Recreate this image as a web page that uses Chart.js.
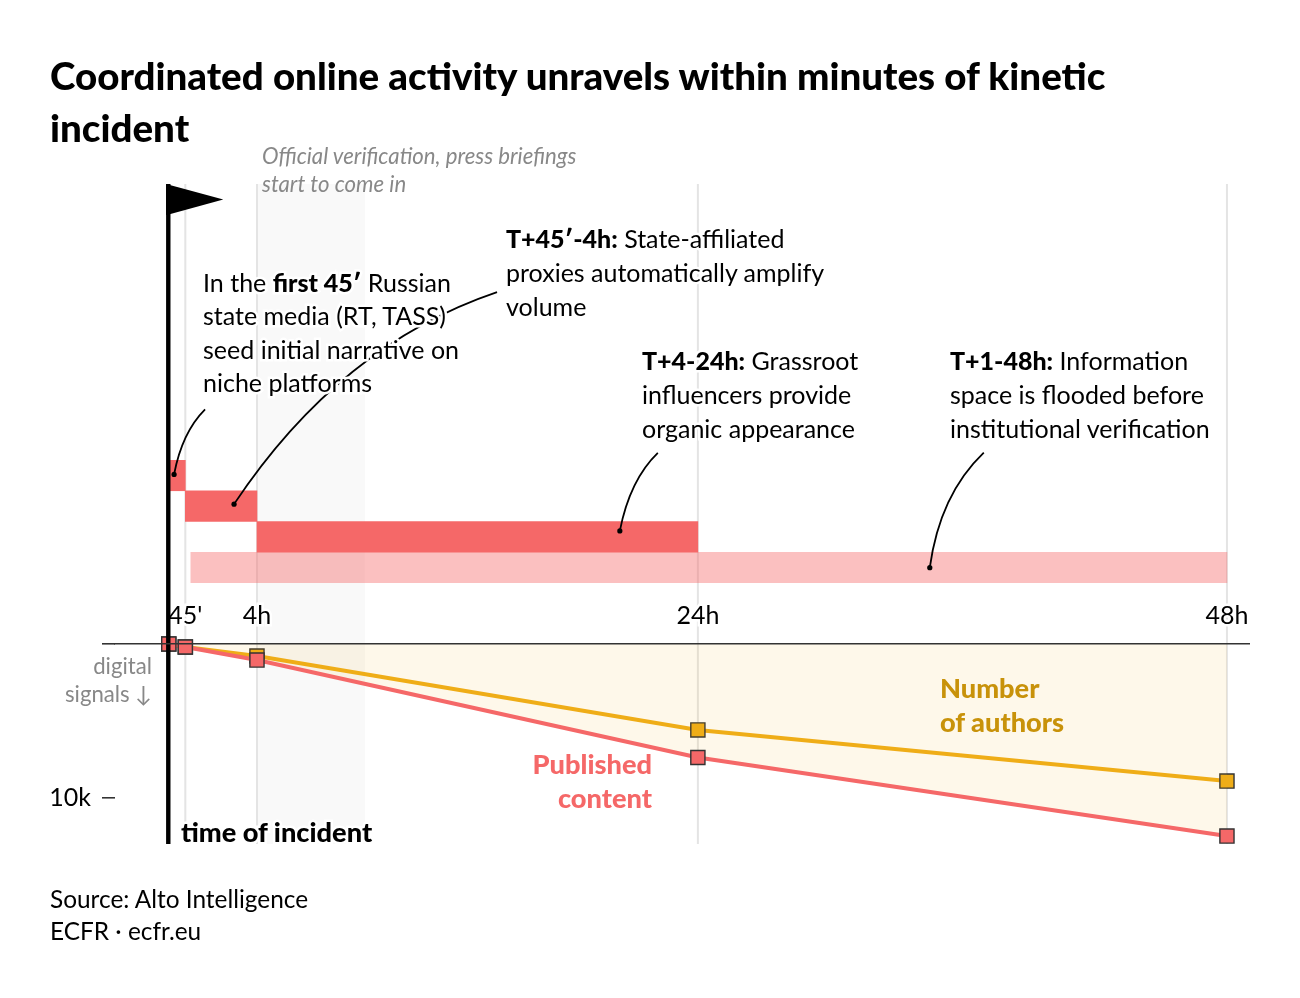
<!DOCTYPE html>
<html>
<head>
<meta charset="utf-8">
<title>Coordinated online activity</title>
<script src="https://cdn.jsdelivr.net/npm/chart.js@4/dist/chart.umd.min.js"></script>
<style>
  body { margin: 0; background: #fff; font-family: Lato, sans-serif; color: #000; }
  #page { position: relative; width: 1300px; height: 998px; overflow: hidden; }
  canvas { position: absolute; left: 0; top: 0; }
  .t { position: absolute; white-space: nowrap; font-size: 25px; line-height: 34px; -webkit-text-stroke: 5px #fff; paint-order: stroke fill; }
  .t b { font-weight: 900; }
  h1 { position: absolute; left: 50px; top: 49px; margin: 0; width: 1150px; font-size: 38.5px; line-height: 52px; font-weight: 900; }
  .grey { color: #888; font-size: 22.2px; line-height: 28px; -webkit-text-stroke: 0; }
  .big { font-size: 27.2px; font-weight: 900; }
</style>
</head>
<body>
<div id="page">
  <canvas id="phases" width="1300" height="998"></canvas>
  <canvas id="signals" width="1300" height="998"></canvas>
  <h1>Coordinated online activity unravels within minutes of kinetic incident</h1>
  <div class="t grey" style="left:262px;top:142px;font-style:italic">Official verification, press briefings<br>start to come in</div>
  <div class="t" style="left:506px;top:221px"><b>T+45′-4h:</b> State-affiliated<br>proxies automatically amplify<br>volume</div>
  <div class="t" style="left:203px;top:266px;line-height:33.4px">In the <b>first 45′</b> Russian<br>state media (RT, TASS)<br>seed initial narrative on<br>niche platforms</div>
  <div class="t" style="left:642px;top:343px"><b>T+4-24h:</b> Grassroot<br>influencers provide<br>organic appearance</div>
  <div class="t" style="left:950px;top:343px"><b>T+1-48h:</b> Information<br>space is flooded before<br>institutional verification</div>
  <div class="t grey" style="right:1148px;top:652px;text-align:right">digital<br>signals ↓</div>
  <div class="t big" style="left:940px;top:671px;color:#c8920a;-webkit-text-stroke:0">Number<br>of authors</div>
  <div class="t big" style="right:648px;top:747px;text-align:right;color:#f56868;-webkit-text-stroke:0">Published<br>content</div>
  <div class="t big" style="left:181px;top:815px">time of incident</div>
  <div class="t" style="left:50px;top:883px;line-height:32px;font-size:24.4px;-webkit-text-stroke:0">Source: Alto Intelligence<br>ECFR · ecfr.eu</div>
</div>
<script>
const RED = '#f56868';
const AMBER = '#efad18';

// hours after the incident
const hoursMin = -2.44;
const hoursMax = 49;
const tickHours = [0.75, 4, 24, 48];
const tickLabels = ["45'", '4h', '24h', '48h'];

const signalHours = [0, 0.75, 4, 24, 48];
const publishedContent = [0, 195, 1040, 7370, 12470];
const numberOfAuthors = [0, 195, 780, 5580, 8900];

const phaseNames = ['first 45', 'T+45-4h', 'T+4-24h', 'T+1-48h'];
const phaseStart = [0, 0.75, 4, 1];
const phaseEnd = [0.75, 4, 24, 48];
const phaseColors = [RED, RED, RED, 'rgba(245,104,104,0.42)'];

const verificationStart = 4;
const verificationEnd = 8.9;

// one leader per phase: dot on the bar, then curve control and end as pixel offsets from it
const leaderHours = [0.24, 2.96, 20.46, 34.52];
const leaderShift = [-1, -2, -6, 0];
const leaderBend = [[8, -42], [106, -159], [10, -51], [10, -73]];
const leaderEnd = [[31, -65], [263, -212], [38, -78], [54, -115]];

const rulesPlugin = {
  id: 'rules',
  beforeDatasetsDraw(chart) {
    const { ctx } = chart;
    const x = chart.scales.x;
    ctx.save();
    ctx.fillStyle = '#f9f9f9';
    const bandLeft = x.getPixelForValue(verificationStart);
    ctx.fillRect(bandLeft, 184, x.getPixelForValue(verificationEnd) - bandLeft, 660);
    ctx.strokeStyle = '#e4e4e4';
    ctx.lineWidth = 2;
    tickHours.forEach(h => {
      ctx.beginPath();
      ctx.moveTo(x.getPixelForValue(h), 184);
      ctx.lineTo(x.getPixelForValue(h), 844);
      ctx.stroke();
    });
    ctx.restore();
  },
  afterDatasetsDraw(chart) {
    const { ctx } = chart;
    const x = chart.scales.x;
    const y = chart.scales.y;
    ctx.save();
    ctx.strokeStyle = '#000';
    ctx.fillStyle = '#000';
    ctx.lineWidth = 1.8;
    leaderHours.forEach((h, i) => {
      const px = x.getPixelForValue(h);
      const py = y.getPixelForValue(i) + leaderShift[i];
      ctx.beginPath();
      ctx.moveTo(px, py);
      ctx.quadraticCurveTo(px + leaderBend[i][0], py + leaderBend[i][1], px + leaderEnd[i][0], py + leaderEnd[i][1]);
      ctx.stroke();
      ctx.beginPath();
      ctx.arc(px, py, 2.6, 0, Math.PI * 2);
      ctx.fill();
    });
    ctx.restore();
  }
};

const flagPlugin = {
  id: 'flag',
  afterDatasetsDraw(chart) {
    const { ctx } = chart;
    const px = chart.scales.x.getPixelForValue(0) - 0.5;
    ctx.save();
    ctx.fillStyle = '#000';
    ctx.fillRect(px - 2.2, 184, 4.4, 660);
    ctx.beginPath();
    ctx.moveTo(px - 2.2, 184);
    ctx.lineTo(px + 55, 199.5);
    ctx.lineTo(px + 2.2, 214);
    ctx.lineTo(px - 2.2, 215);
    ctx.closePath();
    ctx.fill();
    ctx.restore();
  }
};

new Chart(document.getElementById('phases'), {
  type: 'bar',
  plugins: [rulesPlugin],
  data: {
    labels: phaseNames,
    datasets: [{
      data: phaseStart.map((s, i) => [s, phaseEnd[i]]),
      backgroundColor: phaseColors,
      barPercentage: 1,
      categoryPercentage: 1
    }]
  },
  options: {
    indexAxis: 'y',
    responsive: false,
    animation: false,
    layout: { padding: { left: 115, right: 51, top: 460, bottom: 415 } },
    plugins: { legend: { display: false }, tooltip: { enabled: false } },
    scales: {
      x: { type: 'linear', display: false, min: hoursMin, max: hoursMax },
      y: { type: 'category', display: false }
    }
  }
});

new Chart(document.getElementById('signals'), {
  type: 'line',
  plugins: [flagPlugin],
  data: {
    labels: signalHours,
    datasets: [{
      label: 'Published content',
      data: signalHours.map((h, i) => ({ x: h, y: publishedContent[i] })),
      borderColor: RED,
      backgroundColor: 'rgba(240,174,26,0.09)',
      pointBackgroundColor: RED,
      pointBorderColor: '#333',
      fill: 'origin'
    }, {
      label: 'Number of authors',
      data: signalHours.map((h, i) => ({ x: h, y: numberOfAuthors[i] })),
      borderColor: AMBER,
      pointBackgroundColor: AMBER,
      pointBorderColor: '#333',
      fill: false
    }]
  },
  options: {
    responsive: false,
    animation: false,
    clip: false,
    layout: { padding: { top: 596, bottom: 154, right: 51, left: 0 } },
    elements: {
      line: { borderWidth: 4, tension: 0 },
      point: { pointStyle: 'rect', radius: 10, borderWidth: 1.4 }
    },
    plugins: { legend: { display: false }, tooltip: { enabled: false } },
    scales: {
      x: {
        type: 'linear',
        position: 'top',
        min: hoursMin,
        max: hoursMax,
        afterBuildTicks(scale) { scale.ticks = tickHours.map(v => ({ value: v })); },
        afterFit(scale) { scale.height = 48; },
        border: { color: '#333', width: 1.6, z: 1 },
        grid: { display: false },
        ticks: {
          autoSkip: false,
          maxRotation: 0,
          padding: 5,
          color: '#000',
          font: { family: 'Lato', size: 25 },
          textStrokeColor: '#fff',
          textStrokeWidth: 5,
          callback: v => tickLabels[tickHours.indexOf(v)]
        }
      },
      y: {
        reverse: true,
        min: 0,
        max: 12987,
        afterBuildTicks(scale) { scale.ticks = [{ value: 0 }, { value: 10000 }]; },
        afterFit(scale) { scale.width = 115; },
        border: { display: false },
        grid: { drawOnChartArea: false, drawTicks: true, tickLength: 13, color: '#333', lineWidth: 1.6 },
        ticks: {
          padding: 11,
          color: '#000',
          font: { family: 'Lato', size: 25 },
          callback: v => (v === 10000 ? '10k' : '')
        }
      }
    }
  }
});
</script>
</body>
</html>
